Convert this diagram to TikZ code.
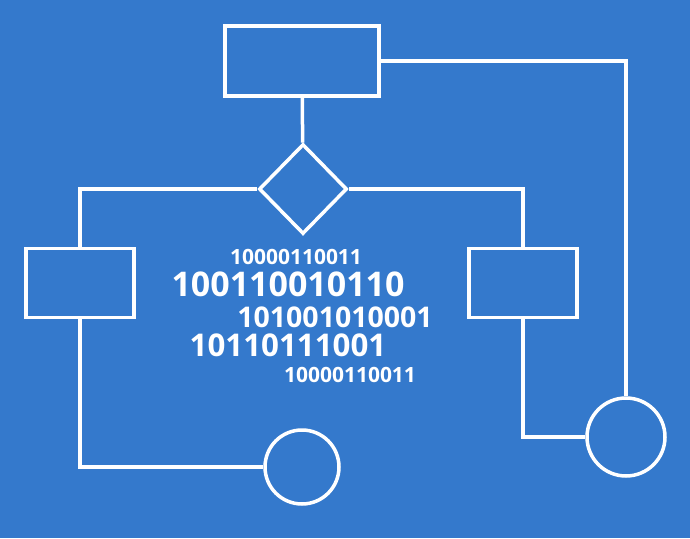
\documentclass[tikz,border=0pt]{standalone}
\usepackage{fontspec}
\setmainfont{Open Sans}
\usetikzlibrary{shapes.geometric,positioning}

\definecolor{bgblue}{RGB}{52,121,204}

\begin{document}
\begin{tikzpicture}[x=1pt, y=-1pt,
		line/.style={draw=white, line width=3.5pt},
		box/.style={line, rectangle, inner sep=0pt},
		test/.style={line, diamond, inner sep=0pt, minimum width=88pt, minimum height=90pt},
		stop/.style={line, circle, inner sep=0pt},
		bits/.style={text=white, inner sep=0pt, font=\bfseries}]
		% 1. Background (fixes the size of the picture)
		\fill[bgblue] (0,0) rectangle (690,538);
		\useasboundingbox (0,0) rectangle (690,538);

		% 2. The flowchart blocks
		\node[box, minimum width=154pt, minimum height=70pt] (top) at (302,61) {};
		\node[test] (dec) at (303,189) {};
		\node[box, minimum width=108pt, minimum height=69pt] (lbox) at (80,283) {};
		\node[box, minimum width=108pt, minimum height=69pt] (rbox) at (523,283) {};
		\node[stop, minimum size=74pt] (lend) at (302,467) {};
		\node[stop, minimum size=78pt] (rend) at (626,437) {};

		% 3. Connectors
		\draw[line] (top) -- (dec);
		\draw[line] (dec.west) -| (lbox.north);
		\draw[line] (dec.east) -| (rbox.north);
		\draw[line] (lbox.south) |- (lend.west);
		\draw[line] (rbox.south) |- (rend.west);
		\draw[line] (top.east) -| (rend.north);

		% 4. Binary digits in the middle
		\node[bits, font=\bfseries\fontsize{21}{21}\selectfont] (b1) at (296,257) {10000110011};
		\node[bits, font=\bfseries\fontsize{34}{34}\selectfont] (b2) at (288,284) {100110010110};
		\node[bits, font=\bfseries\fontsize{28.5}{28.5}\selectfont] (b3) at (335,317) {101001010001};
		\node[bits, font=\bfseries\fontsize{31.3}{31.3}\selectfont] (b4) at (288,345) {10110111001};
		\node[bits, font=\bfseries\fontsize{21}{21}\selectfont] (b5) at (350,375) {10000110011};
	\end{tikzpicture}
\end{document}
